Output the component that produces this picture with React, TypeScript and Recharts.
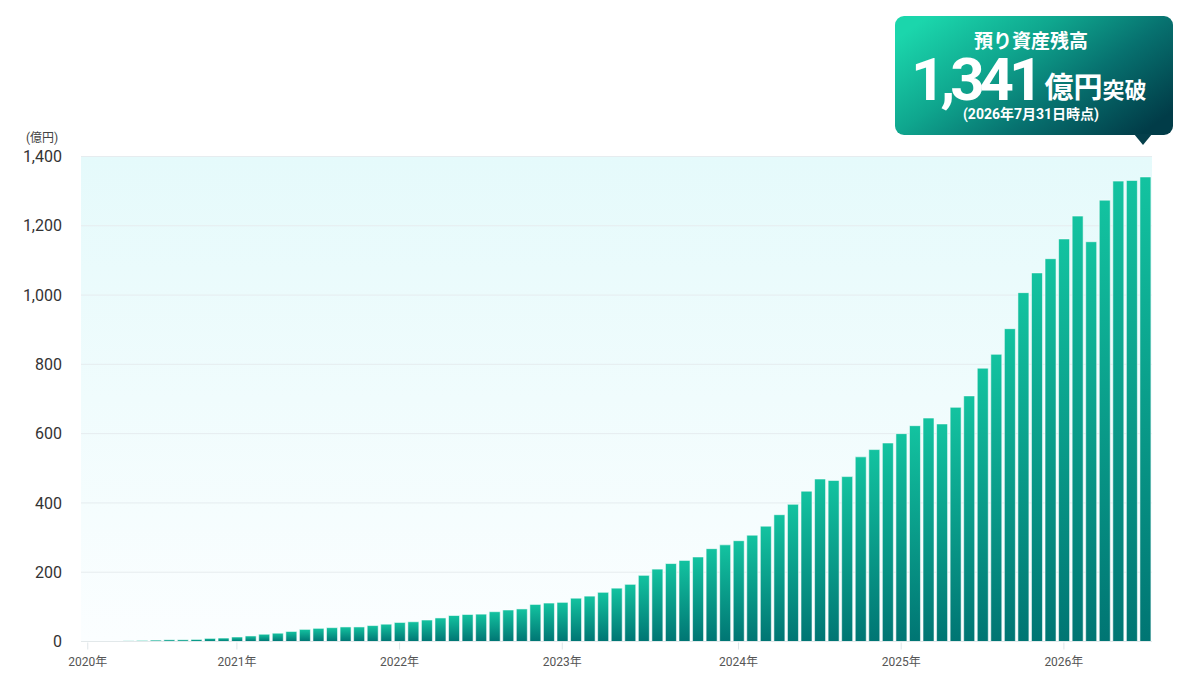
import React from "react";
import { BarChart, Bar, XAxis, YAxis, CartesianGrid } from "recharts";

// monthly balance, 億円 (Jan 2020 - Jul 2026)
const balances = [
  1, 1, 1.5, 2, 3, 4, 5, 5, 6, 9, 10, 13, 16, 21, 24, 29, 35, 38, 40,
  42, 42, 46, 50, 55, 57, 62, 68, 75, 78, 79, 86, 91, 94, 107, 111, 113, 125, 131,
  142, 154, 165, 191, 209, 225, 234, 244, 268, 279, 291, 307, 333, 366, 396, 434, 469, 465, 476, 533,
  554, 573, 600, 623, 645, 628, 676, 709, 789, 829, 903, 1007, 1064, 1105, 1162, 1228, 1154, 1274,
  1329, 1331, 1341,
];

const years = ["2020", "2021", "2022", "2023", "2024", "2025", "2026"];
const monthNames = ["01", "02", "03", "04", "05", "06", "07", "08", "09", "10", "11", "12"];
const months = years.flatMap((y) => monthNames.map((m) => `${y}-${m}`)).slice(0, balances.length);

// where the year labels sit on the axis
const yearTickIndex = [0, 11, 23, 35, 48, 60, 72];
const yearTickLabels = ["2020年", "2021年", "2022年", "2023年", "2024年", "2025年", "2026年"];

const yTicks = [0, 200, 400, 600, 800, 1000, 1200, 1400];

const data = months.map((month, i) => ({ month, value: balances[i] }));

const FONT = "Roboto, 'Noto Sans CJK JP', sans-serif";

const YearTick = (props: any) => {
  const { x, y, index } = props;
  const k = yearTickIndex.indexOf(index);
  if (k < 0) return <g />;
  return (
    <g>
      <line x1={x} x2={x} y1={y + 1} y2={y + 8} stroke="#dfe5e8" />
      <text x={x} y={y + 24.5} textAnchor="middle" fontSize={12} fill="#555">
        {yearTickLabels[k]}
      </text>
    </g>
  );
};

// callout box in the top right corner
const Callout = () => (
  <svg
    width={1200}
    height={689}
    style={{ position: "absolute", left: 0, top: 0, pointerEvents: "none" }}
  >
    <defs>
      <linearGradient id="calloutGrad" x1="0" y1="0.2" x2="1" y2="0.8">
        <stop offset="0%" stopColor="#1bd6ac" />
        <stop offset="35%" stopColor="#0fa68e" />
        <stop offset="65%" stopColor="#07716f" />
        <stop offset="100%" stopColor="#013c48" />
      </linearGradient>
    </defs>
    <rect x={895} y={16} width={278} height={119} rx={9} fill="url(#calloutGrad)" />
    <path d="M1134,134 L1152,134 L1143,145 Z" fill="#053f4b" />
    <g fill="#fff" fontWeight={700} fontFamily={FONT}>
      <text x={1031} y={48} fontSize={19} textAnchor="middle">
        預り資産残高
      </text>
      <text x={911} y={100}>
        <tspan fontSize={60} letterSpacing={-5}>1,341</tspan>
        <tspan fontSize={29} dx={6} dy={-2}>億円</tspan>
        <tspan fontSize={22}>突破</tspan>
      </text>
      <text x={1031} y={119} fontSize={14} textAnchor="middle">
        (2026年7月31日時点)
      </text>
    </g>
  </svg>
);

export default function App() {
  return (
    <div
      style={{
        position: "absolute",
        left: 0,
        top: 0,
        width: 1200,
        height: 689,
        background: "#fff",
        fontFamily: FONT,
      }}
    >
      <div style={{ position: "absolute", left: 26, top: 128, fontSize: 12, color: "#444" }}>(億円)</div>
      <BarChart
        width={1200}
        height={689}
        data={data}
        margin={{ top: 156.5, right: 48, left: 0, bottom: 0 }}
        barCategoryGap="11%"
      >
        <defs>
          <linearGradient id="bgGrad" x1="0" y1="0" x2="0" y2="1">
            <stop offset="0%" stopColor="#e5fafb" />
            <stop offset="100%" stopColor="#fbfeff" />
          </linearGradient>
          <linearGradient id="barGrad" x1="0" y1="0" x2="0" y2="1">
            <stop offset="0%" stopColor="#13c3a0" />
            <stop offset="100%" stopColor="#007573" />
          </linearGradient>
        </defs>
        <CartesianGrid vertical={false} stroke="#e6ecef" fill="url(#bgGrad)" />
        <XAxis
          dataKey="month"
          interval={0}
          height={47.5}
          axisLine={{ stroke: "#e2e8ea" }}
          tickLine={false}
          tickSize={0}
          tickMargin={0}
          tick={<YearTick />}
        />
        <YAxis
          width={81}
          domain={[0, 1400]}
          ticks={yTicks}
          axisLine={false}
          tickLine={false}
          tickSize={0}
          tickMargin={19}
          tick={{ fontSize: 16, fill: "#333" }}
          tickFormatter={(v: number) => v.toLocaleString("en-US")}
        />
        <Bar
          dataKey="value"
          fill="url(#barGrad)"
          stroke="#ffffff"
          strokeOpacity={0.55}
          strokeWidth={1}
          isAnimationActive={false}
        />
      </BarChart>
      <Callout />
    </div>
  );
}
